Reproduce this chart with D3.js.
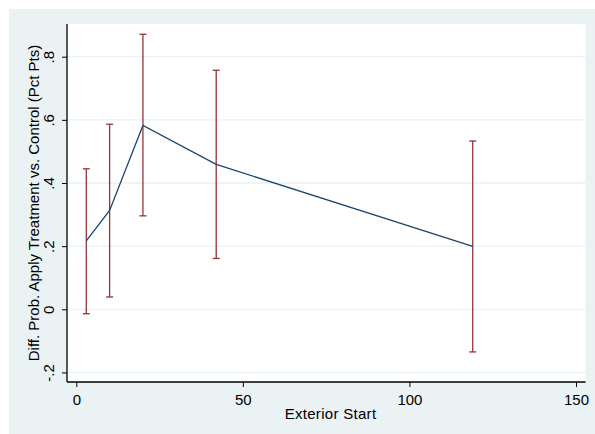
<!DOCTYPE html>
<html><head><meta charset="utf-8">
<script src="https://cdn.jsdelivr.net/npm/d3@7"></script>
<style>body{margin:0;background:#fff}svg{display:block}text{font-family:"Liberation Sans",Arial,sans-serif;fill:#000}</style>
</head><body><svg id="c" width="595" height="434"></svg>
<script>
const xs = [3, 10, 20, 42, 119];
const est = [0.217, 0.313, 0.582, 0.459, 0.199];
const lo = [-0.014, 0.039, 0.296, 0.161, -0.135];
const hi = [0.445, 0.586, 0.871, 0.757, 0.533];
const xTicks = [0, 50, 100, 150];
const yTicks = [-0.2, 0, 0.2, 0.4, 0.6, 0.8];
const yTickLabels = ["-.2", "0", ".2", ".4", ".6", ".8"];
const xTitle = "Exterior Start";
const yTitle = "Diff. Prob. Apply Treatment vs. Control (Pct Pts)";

const FS = 15;
const svg = d3.select("#c");
svg.append("rect").attr("x",9).attr("y",9).attr("width",586).attr("height",425).attr("fill","#eaf2f3");
const L=67, R=585.5, T=24, B=382;
svg.append("rect").attr("x",L).attr("y",T).attr("width",R-L).attr("height",B-T).attr("fill","#fff");
const x = d3.scaleLinear().domain([0,150]).range([76.3,576]);
const y = d3.scaleLinear().domain([0,0.8]).range([309.3,56.7]);
const g = svg.append("g");
g.selectAll("line.grid").data(yTicks).join("line").attr("class","grid")
 .attr("x1",L).attr("x2",R).attr("y1",d=>y(d)).attr("y2",d=>y(d))
 .attr("stroke","#eaf2f3").attr("stroke-width",1.3);
// error bars
const col="#90353b";
const eb = g.selectAll("g.eb").data(xs.map((d,i)=>({x:d,lo:lo[i],hi:hi[i]}))).join("g");
eb.append("line").attr("x1",d=>x(d.x)).attr("x2",d=>x(d.x)).attr("y1",d=>y(d.lo)).attr("y2",d=>y(d.hi)).attr("stroke",col).attr("stroke-width",1.3);
eb.append("line").attr("x1",d=>x(d.x)-3.5).attr("x2",d=>x(d.x)+3.5).attr("y1",d=>y(d.lo)).attr("y2",d=>y(d.lo)).attr("stroke",col).attr("stroke-width",1.3);
eb.append("line").attr("x1",d=>x(d.x)-3.5).attr("x2",d=>x(d.x)+3.5).attr("y1",d=>y(d.hi)).attr("y2",d=>y(d.hi)).attr("stroke",col).attr("stroke-width",1.3);
// line
g.append("path").datum(xs.map((d,i)=>[d,est[i]]))
 .attr("d",d3.line().x(d=>x(d[0])).y(d=>y(d[1])))
 .attr("fill","none").attr("stroke","#1a476f").attr("stroke-width",1.3);
// axes
const xa = svg.append("g").attr("transform",`translate(0,${B})`)
 .call(d3.axisBottom(x).tickValues(xTicks).tickSize(5).tickPadding(5).tickFormat(d3.format("d")));
xa.select(".domain").attr("d",`M${L},0H${R}`);
const ya = svg.append("g").attr("transform",`translate(${L},0)`)
 .call(d3.axisLeft(y).tickValues(yTicks).tickSize(5).tickFormat((d,i)=>yTickLabels[i]));
ya.select(".domain").attr("d",`M0,${T}V${B}`);
[xa,ya].forEach(a=>{a.selectAll("path,line").attr("stroke","#000").attr("stroke-width",1);a.selectAll("text").attr("font-size",FS).attr("font-family","Liberation Sans, Arial, sans-serif").attr("fill","#000");});
xa.select(".domain").attr("stroke-width",1.3);ya.select(".domain").attr("stroke-width",1.3);
xa.selectAll(".tick text").attr("y",0).attr("dy",0).attr("transform","translate(0,23)");
ya.selectAll(".tick text").attr("transform","rotate(-90)").attr("x",0).attr("y",-13.5).attr("dy",0).attr("text-anchor","middle");
svg.append("text").attr("x",330.5).attr("y",419.3).attr("text-anchor","middle").attr("font-size",FS).attr("letter-spacing",0.3).text(xTitle);
svg.append("text").attr("transform",`translate(38.5,203) rotate(-90)`).attr("text-anchor","middle").attr("font-size",FS).text(yTitle);
</script></body></html>
